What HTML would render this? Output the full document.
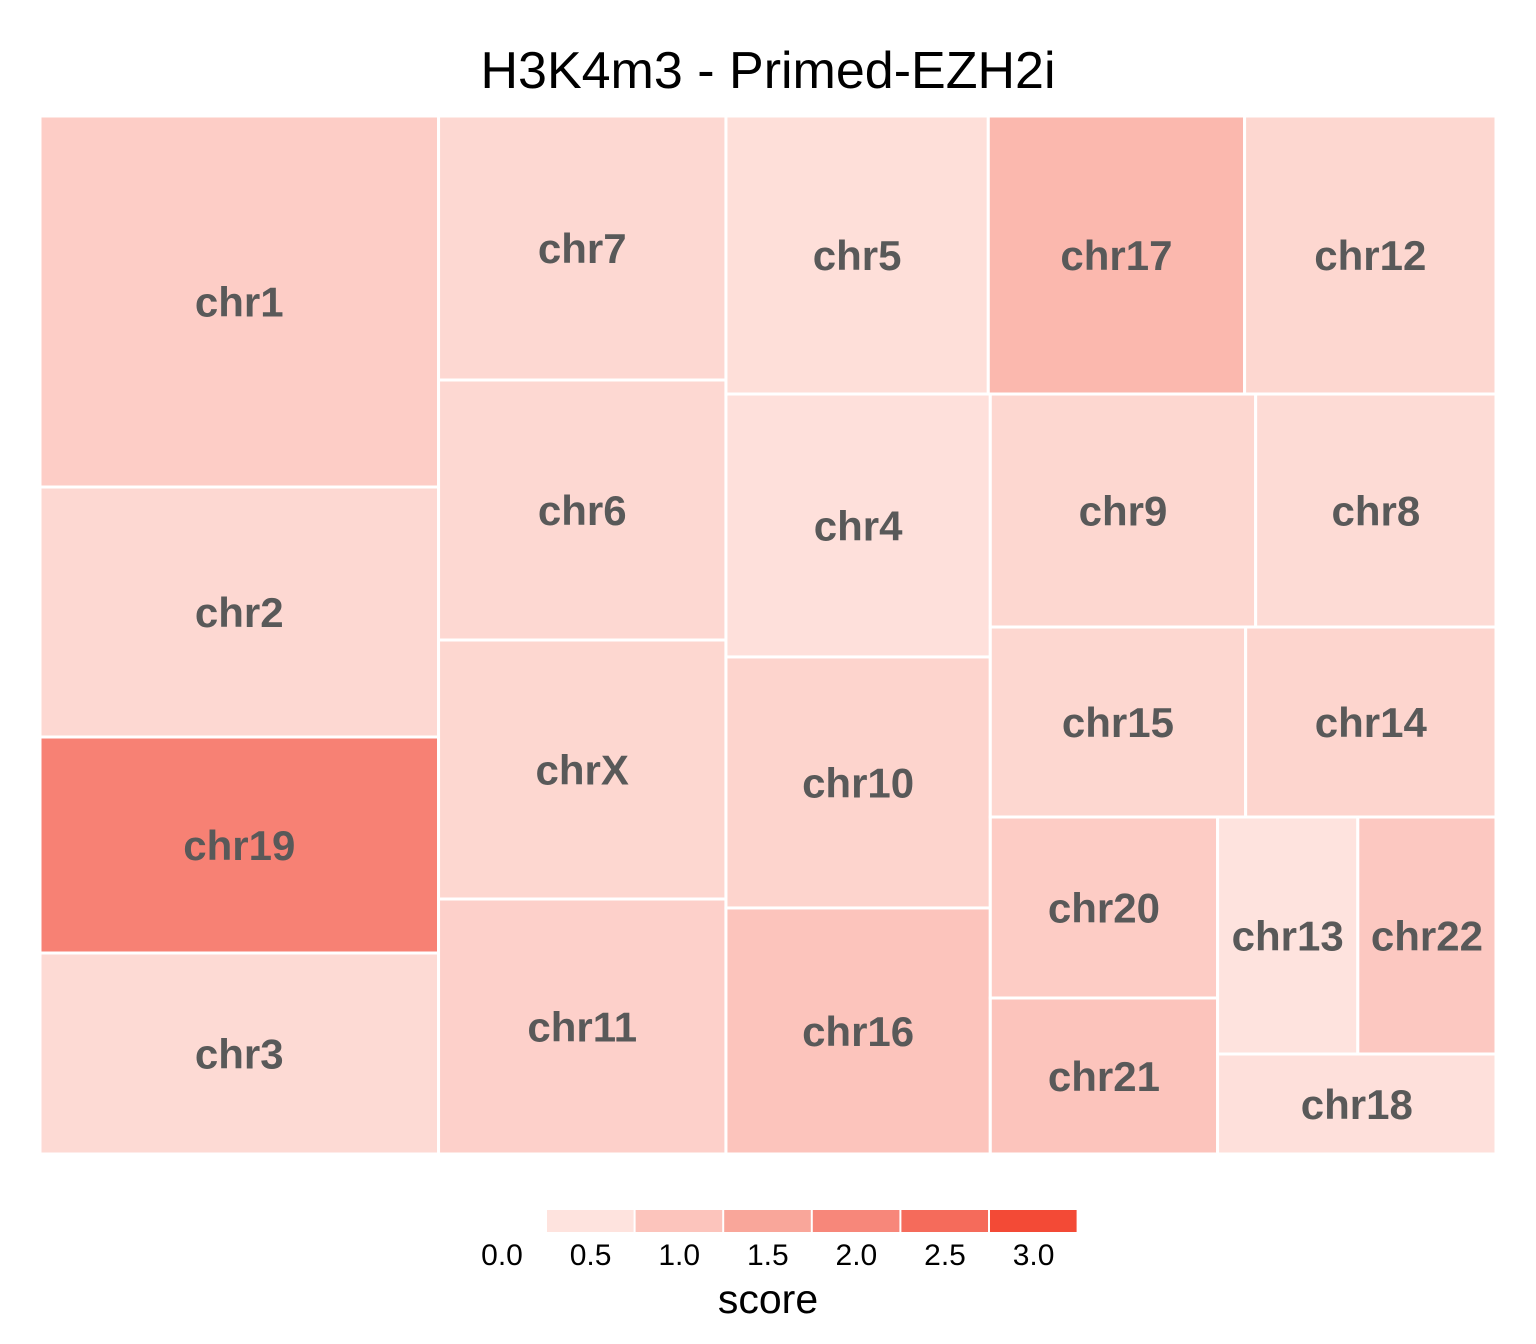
<!DOCTYPE html>
<html><head><meta charset="utf-8">
<style>
html,body{margin:0;padding:0;background:#fff;}
svg{display:block;font-family:"Liberation Sans",Arial,sans-serif;}
</style></head>
<body>
<svg id="chart" width="1536" height="1344" viewBox="0 0 1536 1344" xmlns="http://www.w3.org/2000/svg">
<rect x="0" y="0" width="1536" height="1344" fill="#fff"/>
<text x="768" y="88" text-anchor="middle" font-size="52" fill="#000">H3K4m3 - Primed-EZH2i</text>
<g id="tiles"></g>
<g id="legend"></g>
</svg>
<script>
const categories = ["chr1","chr2","chr19","chr3","chr7","chr6","chrX","chr11","chr5","chr17","chr12","chr4","chr10","chr16","chr9","chr8","chr15","chr14","chr20","chr21","chr13","chr22","chr18"];
const sizes = [147658,99500,85968,79998,75768,74620,74333,73185,72836,71168,69800,69400,66264,64944,61745,55920,48450,47500,41087,35412,33180,32706,27800];
const scores = [0.6,0.42,1.85,0.4,0.42,0.42,0.45,0.55,0.32,0.95,0.45,0.3,0.5,0.75,0.45,0.38,0.45,0.48,0.62,0.75,0.2,0.68,0.3];
const stripCounts = [4,4,3,3,2,2,2,2,1];
const legendBreaks = [0.0,0.5,1.0,1.5,2.0,2.5,3.0];
const legendLabels = ["0.0","0.5","1.0","1.5","2.0","2.5","3.0"];

const NS = "http://www.w3.org/2000/svg";
const plot = {x:40, y:116, w:1456, h:1038};
const stops = [[0.25,[254,227,222]],[0.75,[252,196,188]],[1.25,[249,166,154]],[1.75,[247,135,122]],[2.25,[245,107,91]],[2.75,[243,74,54]]];
function colorFor(v){
  if(v<=stops[0][0]) return rgb(stops[0][1]);
  for(let i=1;i<stops.length;i++){
    if(v<=stops[i][0]){
      const t=(v-stops[i-1][0])/(stops[i][0]-stops[i-1][0]);
      const a=stops[i-1][1], b=stops[i][1];
      return rgb(a.map((c,k)=>c+(b[k]-c)*t));
    }
  }
  return rgb(stops[stops.length-1][1]);
}
function rgb(c){return "rgb("+c.map(Math.round).join(",")+")";}

function layout(){
  const total=sizes.reduce((a,b)=>a+b,0);
  const k=plot.w*plot.h/total;
  const areas=sizes.map(s=>s*k);
  const out=[];
  let rect={x:plot.x,y:plot.y,w:plot.w,h:plot.h};
  let i=0;
  for(const cnt of stripCounts){
    const row=areas.slice(i,i+cnt);
    const s=row.reduce((a,b)=>a+b,0);
    if(rect.w>=rect.h){
      const cw=s/rect.h; let yy=rect.y;
      row.forEach((a,n)=>{const hh=a/cw; out[i+n]={x:rect.x,y:yy,w:cw,h:hh}; yy+=hh;});
      rect={x:rect.x+cw,y:rect.y,w:rect.w-cw,h:rect.h};
    } else {
      const rh=s/rect.w; let xx=rect.x;
      row.forEach((a,n)=>{const ww=a/rh; out[i+n]={x:xx,y:rect.y,w:ww,h:rh}; xx+=ww;});
      rect={x:rect.x,y:rect.y+rh,w:rect.w,h:rect.h-rh};
    }
    i+=cnt;
  }
  return out;
}
const tiles=document.getElementById("tiles");
layout().forEach((r,i)=>{
  const g=document.createElementNS(NS,"g");
  
  
  const rc=document.createElementNS(NS,"rect");
  rc.setAttribute("x",r.x);rc.setAttribute("y",r.y);rc.setAttribute("width",r.w);rc.setAttribute("height",r.h);
  rc.setAttribute("fill",colorFor(scores[i]));rc.setAttribute("stroke","#fff");rc.setAttribute("stroke-width","3");
  
  
  g.appendChild(rc);
  const t=document.createElementNS(NS,"text");
  t.setAttribute("x",r.x+r.w/2);t.setAttribute("y",r.y+r.h/2+15);
  t.setAttribute("text-anchor","middle");t.setAttribute("font-size","42");t.setAttribute("font-weight","bold");t.setAttribute("fill","#595959");
  t.textContent=categories[i];
  
  
  g.appendChild(t);
  tiles.appendChild(g);
});
const leg=document.getElementById("legend");
const lx0=502, lstep=88.6, ly=1210, lh=22;
for(let b=0;b<legendBreaks.length-1;b++){
  const mid=(legendBreaks[b]+legendBreaks[b+1])/2;
  const r=document.createElementNS(NS,"rect");
  r.setAttribute("x",lx0+45+b*lstep);r.setAttribute("y",ly);r.setAttribute("width",lstep-2);r.setAttribute("height",lh);
  r.setAttribute("fill",colorFor(mid));
  
  
  leg.appendChild(r);
}
legendLabels.forEach((lab,b)=>{
  const t=document.createElementNS(NS,"text");
  t.setAttribute("x",lx0+legendBreaks[b]/0.5*lstep);t.setAttribute("y",1265);
  t.setAttribute("text-anchor","middle");t.setAttribute("font-size","30");t.setAttribute("fill","#000");
  t.textContent=lab;
  
  
  leg.appendChild(t);
});
const lt=document.createElementNS(NS,"text");
lt.setAttribute("x",768);lt.setAttribute("y",1313);lt.setAttribute("text-anchor","middle");lt.setAttribute("font-size","41");lt.setAttribute("fill","#000");
lt.textContent="score";


leg.appendChild(lt);
</script>
</body></html>
